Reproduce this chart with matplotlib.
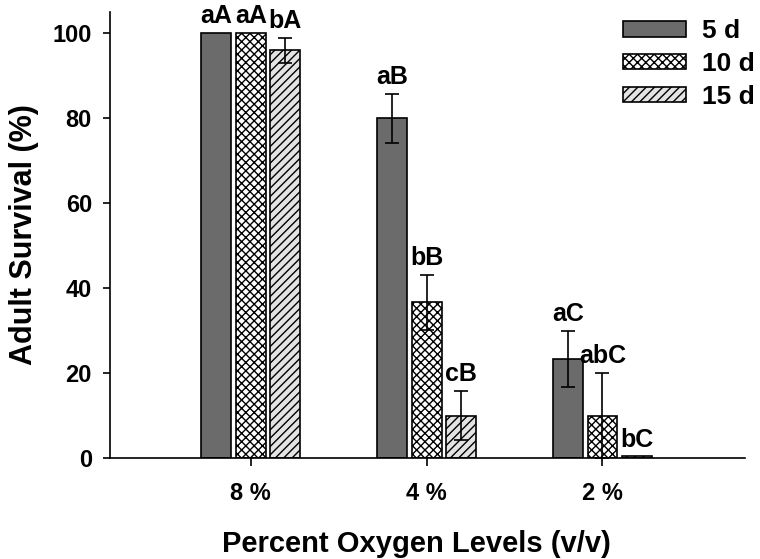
import numpy as np
import matplotlib
matplotlib.use("Agg")
import matplotlib.pyplot as plt

plt.rcParams['font.family'] = ['Liberation Sans', 'DejaVu Sans']
plt.rcParams['font.weight'] = 'bold'
plt.rcParams['hatch.linewidth'] = 1.0

levels = ['8 %', '4 %', '2 %']
days = ['5 d', '10 d', '15 d']
means = [[100, 80, 23.3],
         [100, 36.7, 10],
         [96, 10, 0.4]]
errs = [[0, 5.8, 6.6],
        [0, 6.5, 10],
        [3.0, 5.8, 0]]
letters = [['aA', 'aB', 'aC'],
           ['aA', 'bB', 'abC'],
           ['bA', 'cB', 'bC']]

colors = ['#6b6b6b', 'white', '#e3e3e3']
hatches = [None, 'xxxx', '////']

fig = plt.figure(figsize=(7.6, 5.59), dpi=100)
ax = fig.add_axes([0.1447, 0.1807, 0.8355, 0.7978])

x = np.arange(len(levels))
w = 0.17
off = 0.195
for k in range(3):
    pos = x + (k - 1) * off
    ax.bar(pos, means[k], w, color=colors[k], edgecolor='black', linewidth=1.2,
           hatch=hatches[k], label=days[k], zorder=2)
    for i in range(3):
        m = means[k][i]
        e = errs[k][i]
        if e > 0:
            lo = min(e, m)
            ax.errorbar(pos[i], m, yerr=[[lo], [e]], fmt='none', ecolor='black',
                        elinewidth=1.2, capsize=5, capthick=1.2, zorder=3)
        ax.text(pos[i], m + e + 2.3, letters[k][i], ha='center', va='baseline',
                fontsize=18, fontweight='bold')

ax.set_xlim(-0.80, 2.81)
ax.set_ylim(0, 105)
ax.set_yticks([0, 20, 40, 60, 80, 100])
ax.set_xticks(x)
ax.set_xticklabels(levels)
ax.spines['top'].set_visible(False)
ax.spines['right'].set_visible(False)
ax.spines['left'].set_linewidth(1.2)
ax.spines['bottom'].set_linewidth(1.2)
ax.tick_params(axis='both', labelsize=17, width=1.2)
ax.tick_params(axis='x', length=6, pad=11)
ax.tick_params(axis='y', length=5, pad=8)
for lab in ax.get_xticklabels() + ax.get_yticklabels():
    lab.set_fontweight('bold')

ax.set_xlabel('Percent Oxygen Levels (v/v)', fontsize=21, fontweight='bold', labelpad=18)
ax.xaxis.label.set_x(0.482)
ax.set_ylabel('Adult Survival (%)', fontsize=22, fontweight='bold', labelpad=10)

ax.legend(loc='upper right', bbox_to_anchor=(1.04, 1.019), frameon=False, fontsize=19,
          handlelength=2.4, handleheight=0.5, labelspacing=0.33, handletextpad=0.6,
          borderaxespad=0.2)

fig.savefig('out.png', dpi=100)
